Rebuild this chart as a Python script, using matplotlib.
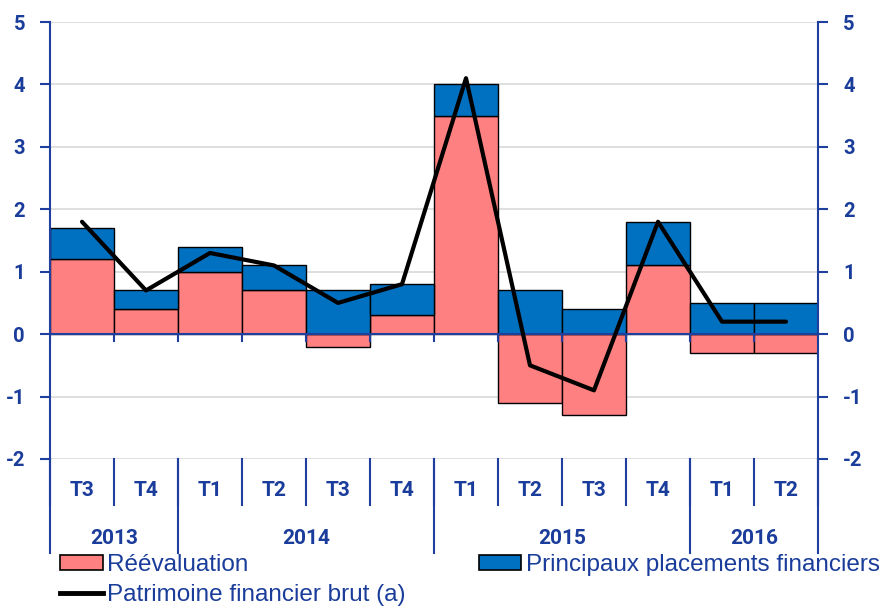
import matplotlib.pyplot as plt
from matplotlib.lines import Line2D
from matplotlib.patches import Patch
from matplotlib.transforms import blended_transform_factory

# Data
quarters = ['T3', 'T4', 'T1', 'T2', 'T3', 'T4', 'T1', 'T2', 'T3', 'T4', 'T1', 'T2']
years = ['2013', '2014', '2015', '2016']
year_counts = [2, 4, 4, 2]

reevaluation = [1.2, 0.4, 1.0, 0.7, -0.2, 0.3, 3.5, -1.1, -1.3, 1.1, -0.3, -0.3]
placements = [0.5, 0.3, 0.4, 0.4, 0.7, 0.5, 0.5, 0.7, 0.4, 0.7, 0.5, 0.5]
patrimoine = [1.8, 0.7, 1.3, 1.1, 0.5, 0.8, 4.1, -0.5, -0.9, 1.8, 0.2, 0.2]

COL_REEV = '#FF8080'
COL_PLAC = '#0070C0'
COL_AXIS = '#1F3F9F'
COL_TEXT = '#1A3C9A'

TICK_FONT = 'Roboto'
LEG_FONT = 'Liberation Sans'

plt.rcParams['axes.unicode_minus'] = False


def main():
    fig = plt.figure(figsize=(8.85, 6.11), dpi=100)
    ax = fig.add_axes([50 / 885, 1 - 459 / 611, 768 / 885, 437 / 611])

    x = list(range(len(quarters)))
    bottoms = [max(r, 0) for r in reevaluation]

    ax.bar(x, reevaluation, width=1.0, color=COL_REEV, edgecolor='black', linewidth=1.0, zorder=2)
    ax.bar(x, placements, width=1.0, bottom=bottoms, color=COL_PLAC, edgecolor='black', linewidth=1.0, zorder=2)
    ax.plot(x, patrimoine, color='black', linewidth=3.0, solid_capstyle='round', zorder=4)

    ax.set_xlim(-0.5, len(quarters) - 0.5)
    ax.set_ylim(-2, 5)
    ax.set_yticks(range(-2, 6))
    ax.yaxis.grid(True, color='#D9D9D9', linewidth=1.2, zorder=0)
    ax.set_axisbelow(True)

    ax.axhline(0, color=COL_AXIS, linewidth=1.5, zorder=3)

    for s in ['top', 'bottom']:
        ax.spines[s].set_visible(False)
    for s in ['left', 'right']:
        ax.spines[s].set_color(COL_AXIS)
        ax.spines[s].set_linewidth(1.5)

    ax.set_xticks([])
    ax.tick_params(axis='y', which='major', direction='out', length=7, width=1.5, color=COL_AXIS,
                   left=True, right=True, labelleft=True, labelright=True, pad=11)
    for lbl in ax.get_yticklabels():
        lbl.set_fontfamily(TICK_FONT)
        lbl.set_fontweight('bold')
        lbl.set_fontsize(14.5)
        lbl.set_color(COL_TEXT)

    trans = blended_transform_factory(ax.transData, ax.transAxes)
    y_q_sep = -46 / 437
    y_y_sep = -94 / 437

    # small ticks on the zero line at category boundaries
    for b in range(len(quarters) + 1):
        bx = b - 0.5
        ax.plot([bx, bx], [0, -0.11], color=COL_AXIS, linewidth=1.5, zorder=3)

    # quarter separators and labels
    for b in range(len(quarters) + 1):
        bx = b - 0.5
        ax.add_line(Line2D([bx, bx], [0, y_q_sep], transform=trans, color=COL_AXIS,
                           linewidth=1.5, clip_on=False))
    for i, q in enumerate(quarters):
        ax.text(i, -32 / 437, q, transform=trans, ha='center', va='center', fontfamily=TICK_FONT,
                fontweight='bold', fontsize=15, color=COL_TEXT)

    # year separators and labels
    start = 0
    bounds = [0]
    for n in year_counts:
        bounds.append(bounds[-1] + n)
    for b in bounds:
        bx = b - 0.5
        ax.add_line(Line2D([bx, bx], [0, y_y_sep], transform=trans, color=COL_AXIS,
                           linewidth=1.5, clip_on=False))
    for yr, n in zip(years, year_counts):
        cx = start + (n - 1) / 2
        ax.text(cx, -80 / 437, yr, transform=trans, ha='center', va='center', fontfamily=TICK_FONT,
                fontweight='bold', fontsize=15, color=COL_TEXT)
        start += n

    handles = [Patch(facecolor=COL_REEV, edgecolor='black', linewidth=1.2),
               Line2D([], [], color='black', linewidth=3.5),
               Patch(facecolor=COL_PLAC, edgecolor='black', linewidth=1.2)]
    labels = ['Réévaluation', 'Patrimoine financier brut (a)', 'Principaux placements financiers']
    leg = fig.legend(handles, labels, ncol=2, loc='upper left', bbox_to_anchor=(60 / 885, 1 - 554 / 611),
                     frameon=False, prop={'family': LEG_FONT, 'size': 17.5}, handlelength=1.75,
                     handleheight=0.55, handletextpad=0.2, columnspacing=3.0, labelspacing=0.32,
                     borderaxespad=0, borderpad=0)
    for t in leg.get_texts():
        t.set_color(COL_TEXT)

    fig.savefig('out.png', dpi=100)


if __name__ == '__main__':
    main()
